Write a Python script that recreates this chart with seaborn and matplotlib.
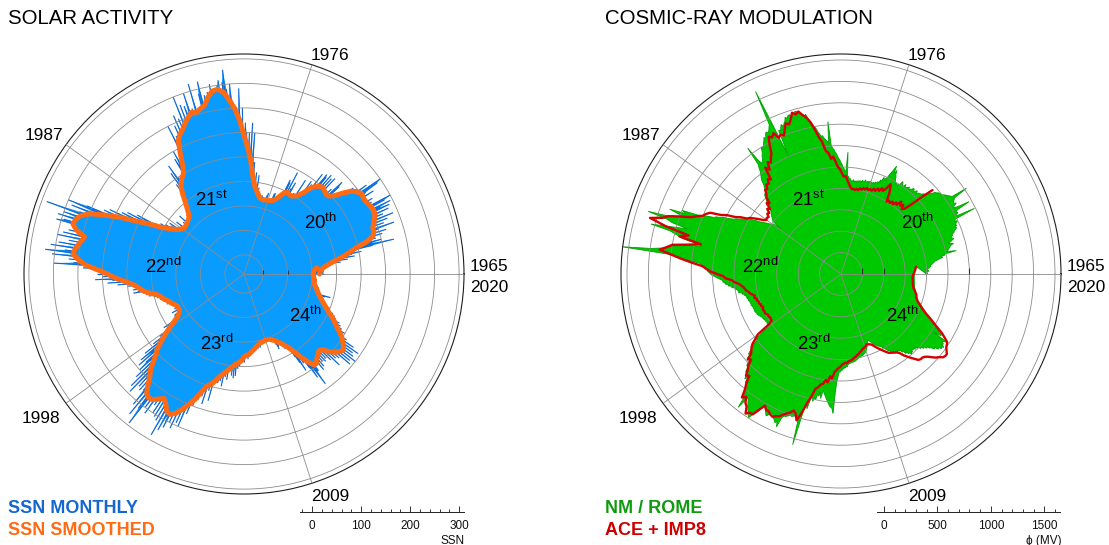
import numpy as np
import pandas as pd
import matplotlib
matplotlib.use("Agg")
import matplotlib.pyplot as plt
import seaborn as sns

sns.set_theme(style="white")
plt.rcParams["font.family"] = ["Liberation Sans", "DejaVu Sans"]
plt.rcParams["mathtext.fontset"] = "custom"
plt.rcParams["mathtext.rm"] = "Liberation Sans"
plt.rcParams["mathtext.it"] = "Liberation Sans:italic"
plt.rcParams["mathtext.bf"] = "Liberation Sans:bold"

# ------------------------------------------------------------------ data
first_year = 1965
circle_years = 55          # one full turn of the dial
spoke_years = [1965, 1976, 1987, 1998, 2009]

# Monthly sunspot number, Jan 1965 .. Dec 2020 (one row per year)
ssn_monthly = [
    24, 22, 19, 21, 24, 23, 20, 17, 19, 27, 24, 24,
    30, 60, 45, 75, 50, 90, 60, 85, 105, 60, 95, 130,
    175, 130, 150, 110, 140, 95, 155, 120, 165, 115, 150, 185,
    120, 165, 130, 175, 140, 190, 135, 170, 150, 185, 140, 190,
    170, 195, 140, 185, 200, 130, 160, 120, 165, 125, 150, 135,
    175, 140, 160, 190, 200, 145, 170, 120, 150, 115, 145, 120,
    120, 70, 100, 75, 110, 80, 125, 135, 80, 110, 75, 100,
    70, 130, 80, 125, 75, 130, 85, 120, 125, 75, 65, 120,
    55, 90, 50, 95, 40, 65, 35, 50, 90, 35, 30, 55,
    35, 50, 30, 75, 60, 35, 95, 40, 70, 75, 35, 20,
    29, 22, 18, 15, 21, 24, 38, 36, 21, 18, 20, 8,
    9, 12, 34, 28, 20, 17, 8, 23, 23, 26, 16, 5,
    15, 25, 20, 40, 25, 65, 30, 45, 70, 40, 55, 90,
    90, 150, 95, 170, 100, 150, 95, 150, 170, 120, 200, 150,
    240, 180, 200, 160, 215, 250, 215, 240, 280, 255, 210, 260,
    250, 200, 225, 190, 255, 205, 240, 175, 235, 210, 265, 240,
    145, 200, 175, 265, 185, 215, 180, 250, 205, 225, 160, 230,
    135, 250, 170, 205, 115, 215, 150, 195, 145, 175, 125, 200,
    140, 60, 110, 100, 150, 120, 135, 80, 90, 55, 70, 95,
    100, 130, 85, 115, 70, 90, 45, 60, 30, 45, 25, 40,
    25, 28, 22, 30, 27, 22, 29, 18, 12, 8, 14, 12,
    3, 38, 17, 15, 24, 8, 10, 8, 5, 35, 20, 5,
    10, 20, 25, 45, 25, 40, 30, 50, 40, 60, 35, 55,
    70, 110, 90, 130, 80, 140, 120, 165, 125, 175, 140, 210,
    250, 190, 240, 180, 220, 290, 190, 250, 220, 260, 200, 245,
    260, 175, 215, 165, 230, 180, 240, 185, 250, 170, 225, 160,
    245, 195, 260, 185, 230, 270, 200, 255, 175, 220, 160, 210,
    250, 170, 190, 130, 150, 95, 160, 110, 150, 100, 165, 130,
    110, 140, 85, 120, 70, 100, 60, 85, 55, 90, 50, 80,
    90, 50, 70, 35, 65, 40, 60, 30, 50, 30, 45, 35,
    35, 40, 30, 20, 35, 25, 22, 25, 15, 30, 15, 13,
    14, 8, 15, 10, 14, 14, 16, 20, 3, 2, 28, 12,
    8, 12, 25, 26, 27, 19, 17, 33, 58, 47, 50, 40,
    40, 75, 60, 95, 70, 120, 85, 135, 110, 145, 90, 130,
    150, 105, 165, 115, 185, 130, 195, 140, 175, 120, 180, 130,
    175, 210, 150, 230, 170, 210, 245, 160, 200, 155, 210, 160,
    185, 130, 200, 150, 205, 140, 210, 160, 240, 170, 225, 190,
    215, 165, 200, 150, 210, 140, 195, 150, 200, 135, 170, 130,
    150, 90, 135, 80, 125, 85, 140, 75, 110, 70, 130, 70,
    80, 55, 90, 50, 85, 55, 95, 50, 75, 45, 80, 40,
    60, 35, 70, 40, 75, 45, 70, 35, 55, 25, 50, 30,
    25, 8, 18, 40, 32, 22, 20, 20, 35, 20, 30, 28,
    25, 18, 8, 5, 18, 20, 14, 8, 4, 2, 3, 16,
    5, 3, 15, 5, 4, 5, 1, 0, 2, 5, 6, 1,
    2, 2, 1, 2, 4, 5, 5, 0, 6, 7, 7, 13,
    20, 30, 25, 11, 13, 19, 25, 28, 36, 35, 35, 22,
    30, 60, 75, 95, 60, 80, 70, 95, 120, 100, 140, 110,
    110, 60, 100, 75, 115, 80, 110, 70, 100, 70, 105, 60,
    100, 60, 110, 85, 130, 70, 115, 80, 120, 90, 145, 100,
    140, 100, 150, 95, 140, 90, 135, 95, 145, 85, 130, 95,
    110, 60, 95, 55, 100, 60, 90, 55, 85, 50, 80, 45,
    70, 45, 65, 35, 60, 25, 45, 40, 50, 30, 35, 20,
    26, 26, 17, 32, 19, 19, 18, 33, 44, 13, 6, 8,
    7, 11, 3, 9, 13, 16, 2, 9, 4, 4, 6, 3,
    8, 1, 10, 10, 10, 1, 1, 0, 1, 0, 1, 2,
    6, 0, 2, 5, 0, 6, 8, 8, 1, 15, 35, 23,
]

# Smoothed sunspot number, quarterly (Jan, Apr, Jul, Oct), 1965 .. 2020
ssn_smoothed = [
    15, 16, 19, 25,   35, 48, 65, 80,   95, 120, 135, 140,
    140, 145, 150, 155,   156, 155, 152, 150,   150, 152, 146, 138,
    122, 105, 96, 94,   97, 100, 98, 92,   82, 65, 55, 50,
    47, 48, 50, 45,   35, 26, 22, 20,   19, 19, 17, 18,
    20, 28, 35, 45,   65, 95, 120, 145,   175, 200, 218, 235,
    242, 240, 230, 215,   210, 205, 208, 200,   192, 182, 175, 165,
    140, 115, 100, 95,   88, 80, 65, 50,   38, 28, 22, 20,
    18, 16, 15, 15,   18, 22, 30, 40,   55, 80, 105, 140,
    170, 200, 215, 222,   225, 215, 195, 200,   205, 210, 212, 200,
    185, 160, 140, 125,   108, 92, 82, 75,   68, 58, 45, 38,
    35, 30, 25, 22,   18, 14, 12, 12,   12, 16, 22, 35,
    50, 65, 80, 95,   105, 120, 135, 145,   160, 175, 180, 178,
    170, 163, 170, 182,   185, 178, 165, 150,   135, 115, 100, 95,
    85, 75, 68, 62,   55, 50, 45, 42,   38, 30, 27, 26,
    22, 18, 15, 11,   8, 6, 5, 4,   3, 3, 4, 7,
    10, 16, 20, 28,   36, 50, 66, 83,   95, 95, 88, 85,
    80, 82, 95, 105,   112, 116, 112, 105,   98, 88, 78, 70,
    62, 52, 45, 38,   32, 27, 22, 18,   15, 12, 9, 6,
    6, 5, 4, 3,   2, 3, 5, 10,
]

# Modulation potential from the Rome neutron monitor, monthly, MV
phi_nm_rome = [
    400, 410, 395, 415, 420, 405, 410, 425, 430, 445, 430, 455,
    460, 475, 480, 505, 530, 565, 540, 590, 580, 700, 610, 625,
    630, 645, 650, 665, 690, 640, 665, 685, 705, 690, 680, 705,
    700, 725, 730, 745, 765, 750, 775, 760, 785, 795, 770, 785,
    990, 800, 815, 835, 820, 845, 975, 855, 820, 835, 865, 840,
    850, 865, 875, 1020, 860, 855, 845, 830, 825, 810, 800, 795,
    790, 785, 770, 765, 740, 725, 700, 695, 680, 675, 660, 655,
    650, 645, 630, 655, 640, 620, 645, 650, 630, 625, 610, 635,
    620, 615, 600, 634, 610, 600, 625, 640, 600, 595, 580, 595,
    580, 605, 620, 645, 660, 700, 655, 735, 680, 645, 600, 585,
    570, 590, 540, 555, 520, 530, 510, 520, 500, 510, 495, 505,
    500, 510, 490, 505, 495, 490, 510, 490, 485, 500, 480, 490,
    480, 490, 470, 485, 470, 480, 470, 490, 475, 470, 485, 495,
    500, 515, 520, 741, 560, 565, 585, 600, 625, 640, 665, 680,
    700, 725, 740, 765, 780, 805, 1030, 825, 850, 865, 880, 905,
    900, 925, 950, 985, 1000, 1035, 1060, 1085, 1130, 1100, 1125, 1130,
    1150, 1175, 1180, 1160, 1175, 1150, 1165, 1160, 1140, 1155, 1120, 1105,
    1080, 1105, 1080, 1050, 1065, 800, 1100, 1483, 1150, 1125, 1100, 1085,
    1100, 1085, 1050, 1065, 1040, 1025, 1000, 985, 1000, 965, 940, 925,
    900, 885, 870, 905, 1065, 880, 855, 820, 805, 780, 765, 740,
    700, 685, 650, 645, 620, 635, 620, 605, 580, 565, 540, 525,
    500, 485, 470, 465, 450, 445, 430, 425, 410, 405, 300, 385,
    390, 405, 420, 445, 460, 485, 500, 535, 560, 585, 600, 625,
    640, 665, 680, 705, 720, 745, 780, 825, 850, 885, 900, 955,
    1000, 1050, 1200, 1150, 1311, 1200, 1150, 1250, 1300, 1495, 1300, 1250,
    1093, 1200, 1300, 1437, 1250, 1200, 1150, 1100, 1000, 914, 1000, 1100,
    1150, 1200, 1250, 1300, 1400, 1663, 1213, 1150, 1100, 1000, 928, 900,
    880, 870, 865, 850, 845, 831, 820, 805, 780, 765, 740, 725,
    700, 710, 680, 690, 650, 660, 618, 630, 590, 600, 570, 580,
    560, 575, 530, 545, 510, 525, 500, 515, 495, 510, 490, 500,
    495, 490, 490, 488, 485, 490, 485, 480, 478, 480, 475, 478,
    480, 478, 475, 470, 468, 470, 465, 460, 455, 450, 445, 440,
    440, 438, 435, 430, 432, 430, 428, 425, 430, 435, 432, 440,
    450, 510, 560, 600, 590, 650, 684, 660, 720, 745, 720, 780,
    790, 760, 800, 830, 800, 850, 880, 860, 900, 930, 900, 950,
    950, 980, 1000, 1020, 1040, 1060, 1173, 1060, 1053, 1080, 1100, 1120,
    1140, 1160, 1180, 1197, 1150, 1120, 1100, 1050, 1024, 1040, 1060, 1080,
    1100, 1080, 1060, 1050, 1070, 1090, 1100, 1120, 1100, 1151, 1050, 1030,
    1030, 1020, 1010, 1000, 1010, 1000, 990, 980, 1005, 1030, 1258, 900,
    860, 900, 790, 778, 820, 780, 800, 740, 760, 720, 780, 700,
    720, 740, 760, 780, 800, 820, 840, 850, 860, 907, 700, 600,
    560, 510, 520, 490, 505, 480, 490, 470, 480, 460, 470, 450,
    445, 440, 438, 435, 432, 431, 430, 428, 425, 420, 415, 410,
    405, 400, 398, 395, 392, 390, 388, 385, 380, 375, 370, 365,
    355, 345, 335, 325, 310, 295, 280, 264, 270, 280, 290, 300,
    310, 330, 320, 345, 340, 360, 355, 375, 370, 395, 390, 415,
    420, 445, 440, 465, 455, 480, 470, 490, 480, 500, 485, 505,
    495, 530, 520, 560, 550, 580, 570, 600, 580, 590, 565, 580,
    570, 590, 565, 600, 585, 620, 600, 640, 625, 660, 650, 680,
    690, 720, 710, 750, 740, 770, 760, 780, 750, 760, 730, 750,
    780, 619, 700, 690, 650, 660, 610, 600, 570, 560, 520, 513,
    500, 490, 480, 470, 455, 445, 440, 425, 415, 400, 395, 380,
    370, 360, 350, 345, 340, 330, 325, 322, 320, 318, 316, 315,
    312, 310, 308, 305, 303, 300, 298, 296, 295, 293, 292, 290,
    290, 289, 288, 288, 287, 286, 286, 285, 285, 285, 286, 286,
    287, 288, 288, 290, 290, 292, 293, 295, 296, 298, 300, 302,
]

# Modulation potential from ACE + IMP8 spacecraft, every two months from Jul 1971, MV
phi_ace_start = 1971.5
phi_ace_imp8 = [
    760, 640, 520,
    450, 430, 470, 445, 480, 430,   445, 410, 430, 405, 420, 400,
    470, 520, 560, 500, 470, 490,   455, 470, 440, 455, 430, 440,
    425, 440, 420, 430, 410, 420,   400, 410, 395, 405, 400, 420,
    450, 480, 520, 510, 540, 580,   600, 650, 700, 680, 740, 760,
    850, 900, 980, 1050, 1100, 1130,   1170, 1150, 1175, 1120, 1080, 1100,
    1050, 1000, 1020, 1000, 1060, 1030,   1050, 980, 900, 870, 830, 850,
    780, 820, 700, 720, 680, 690,   650, 660, 620, 600, 540, 560,
    500, 520, 480, 490, 460, 470,   460, 480, 520, 560, 600, 620,
    680, 720, 800, 850, 950, 980,   1000, 1050, 1100, 1200, 1300, 1350,
    1460, 1300, 1070, 1150, 940, 1050,   1200, 1250, 1310, 1200, 1100, 1000,
    900, 860, 820, 760, 700, 680,   620, 600, 560, 540, 520, 510,
    500, 480, 470, 450, 430, 440,   420, 425, 410, 415, 400, 405,
    390, 400, 400, 395, 400, 390,   380, 385, 375, 380, 380, 420,
    560, 600, 650, 680, 700, 720,   780, 760, 820, 850, 900, 880,
    950, 1000, 1080, 1050, 1100, 1120,   1180, 1150, 1150, 1080, 1020, 1050,
    1050, 1070, 1080, 1060, 1050, 1020,   1000, 980, 950, 970, 1030, 950,
    850, 780, 700, 680, 650, 640,   600, 620, 560, 580, 520, 500,
    480, 470, 450, 440, 430, 435,   420, 415, 410, 400, 390, 385,
    370, 365, 350, 345, 330, 325,   320, 310, 300, 305, 310, 320,
    340, 360, 380, 400, 420, 440,   460, 470, 480, 490, 500, 520,
    560, 590, 620, 650, 680, 690,   690, 700, 720, 750, 780, 800,
    830, 840, 840, 820, 800, 790,   780, 740, 700, 650, 600, 560,
    520, 480, 450, 420, 400, 380,   360, 350, 340, 335, 330, 320,
    310, 300, 290, 285, 280, 278,   275, 273, 272, 270, 270, 272,
    280, 285, 290, 295, 300, 305,
]

cycle_labels = [("20", "th"), ("21", "st"), ("22", "nd"), ("23", "rd"), ("24", "th")]

# ------------------------------------------------------------------ helpers
W, H = 1109, 545
BLUE_FILL, BLUE_DARK, BLUE_TEXT = "#0a9bff", "#1468d2", "#1467d0"
ORANGE = "#ff6a12"
GREEN_FILL, GREEN_EDGE, GREEN_TEXT = "#00c800", "#00a000", "#0f9a0f"
RED = "#d60000"
GRID = "#8c8c8c"


def to_theta(t):
    return (np.asarray(t, dtype=float) - first_year) / circle_years * 2 * np.pi


def fig_xy(x, y):
    return x / W, 1 - y / H


fig = plt.figure(figsize=(W / 100, H / 100), dpi=100)
fig.patch.set_facecolor("white")


def make_dial(cx, cy, radius, rlim, rings, center_ticks, tick_len):
    ax = fig.add_axes([(cx - radius) / W, (H - cy - radius) / H,
                       2 * radius / W, 2 * radius / H], projection="polar")
    ax.set_facecolor("none")
    ax.set_theta_zero_location("E")
    ax.set_theta_direction(1)
    ax.set_xticks(to_theta(spoke_years))
    ax.set_yticks(rings)
    ax.set_xticklabels([])
    ax.set_yticklabels([])
    ax.tick_params(length=0)
    ax.grid(True, color=GRID, linewidth=0.6)
    ax.set_axisbelow(False)
    ax.spines["polar"].set_color("#1e1e1e")
    ax.spines["polar"].set_linewidth(0.8)
    ax.plot(np.zeros(len(center_ticks)), center_ticks, ls="none",
            marker=[(0, 0), (0, 1)], ms=tick_len, mew=0.8, color="#333333",
            zorder=5, clip_on=False)
    ax.set_ylim(*rlim)
    return ax


def finish_dial(ax, rlim):
    ax.set_xlim(0, 2 * np.pi)
    ax.set_ylim(*rlim)
    ax.set_xlabel("")
    ax.set_ylabel("")
    rmax = rlim[1]
    year_fs = 12.4
    spec = [("1965", 0, "left", 6, 3), ("2020", 0, "left", 6, -18),
            ("1976", 1, "left", -1, 5), ("1987", 2, "right", -3, 5),
            ("1998", 3, "right", -6, -20), ("2009", 4, "left", -1, -18)]
    for txt, k, ha, dx, dy in spec:
        ax.annotate(txt, xy=(to_theta(spoke_years[k]), rmax), xytext=(dx, dy),
                    textcoords="offset pixels", ha=ha, va="baseline",
                    fontsize=year_fs, color="black", annotation_clip=False)
    offsets = [(60, 45), (-49, 68), (-99, 1), (-44, -76), (45, -48)]
    for (num, suf), (dx, dy) in zip(cycle_labels, offsets):
        ax.annotate(num + r"$^{\mathrm{" + suf + "}}$", xy=(0, rlim[0]),
                    xytext=(dx, dy), textcoords="offset pixels", ha="left",
                    va="baseline", fontsize=13.4, color="black", zorder=6,
                    annotation_clip=False)


def scale_bar(cx, y, radius, rlim, bounds, majors, minors, unit):
    bx = fig.add_axes([cx / W, (H - y) / H, radius / W, 0.5 / H])
    bx.set_facecolor("none")
    bx.set_xlim(*rlim)
    bx.set_yticks([])
    for s in ("top", "left", "right"):
        bx.spines[s].set_visible(False)
    bx.spines["bottom"].set_bounds(*bounds)
    bx.spines["bottom"].set_color("#222222")
    bx.spines["bottom"].set_linewidth(0.7)
    bx.set_xticks(majors)
    bx.set_xticklabels([str(v) for v in majors])
    bx.set_xticks(minors, minor=True)
    bx.tick_params(axis="x", which="major", direction="in", length=4.3,
                   width=0.6, pad=5.5, labelsize=8.5, colors="#111111")
    bx.tick_params(axis="x", which="minor", direction="in", length=1.9,
                   width=0.6, colors="#111111")
    bx.tick_params(axis="x", which="both", bottom=True)
    fig.text(*fig_xy(cx + radius + 1, 544), unit, ha="right", va="baseline",
             fontsize=8.5, color="#111111", family=["Liberation Sans", "DejaVu Sans"])


# ------------------------------------------------------------------ solar activity dial
ssn_rlim = (-139, 310)
axL = make_dial(244, 274, 220, ssn_rlim, list(range(-100, 301, 50)), [-100, -50], 5.8)

month_t = first_year + np.arange(len(ssn_monthly)) / 12
ssn_df = pd.DataFrame({"theta": to_theta(month_t), "ssn": ssn_monthly})
quarter_t = first_year + np.arange(len(ssn_smoothed)) / 4
smooth_df = pd.DataFrame({"theta": to_theta(quarter_t), "ssn": ssn_smoothed})

axL.fill(ssn_df["theta"], ssn_df["ssn"], color=BLUE_FILL, lw=0, zorder=1)
axL.vlines(ssn_df["theta"], ssn_rlim[0], ssn_df["ssn"], color=BLUE_DARK,
           lw=0.85, zorder=1.1)
axL.fill(smooth_df["theta"], smooth_df["ssn"], color=BLUE_FILL, lw=0, zorder=1.2)
sns.lineplot(data=smooth_df, x="theta", y="ssn", ax=axL, color=ORANGE,
             linewidth=3.6, sort=False, estimator=None, zorder=4)
finish_dial(axL, ssn_rlim)

# ------------------------------------------------------------------ cosmic-ray dial
phi_rlim = (-400, 1656)
axR = make_dial(841, 274, 220, phi_rlim, list(range(-200, 1601, 200)), [-200, 0, 800], 8.4)

nm_df = pd.DataFrame({"theta": to_theta(month_t[:len(phi_nm_rome)]), "phi": phi_nm_rome})
ace_t = phi_ace_start + np.arange(len(phi_ace_imp8)) / 6
ace_df = pd.DataFrame({"theta": to_theta(ace_t), "phi": phi_ace_imp8})

axR.fill(nm_df["theta"], nm_df["phi"], facecolor=GREEN_FILL, edgecolor=GREEN_EDGE,
         lw=0.6, zorder=1)
sns.lineplot(data=ace_df, x="theta", y="phi", ax=axR, color=RED,
             linewidth=1.7, sort=False, estimator=None, zorder=4)
finish_dial(axR, phi_rlim)

# ------------------------------------------------------------------ scale bars
scale_bar(244, 512, 220, ssn_rlim, (-25, 310), [0, 100, 200, 300],
          list(range(-20, 301, 20)), "SSN")
scale_bar(841, 512, 220, phi_rlim, (-60, 1650), [0, 500, 1000, 1500],
          list(range(0, 1601, 100)), "\u03d5 (MV)")

# ------------------------------------------------------------------ titles and legends
fig.text(*fig_xy(8, 23.6), "SOLAR ACTIVITY", fontsize=14.7, va="baseline", color="black")
fig.text(*fig_xy(605, 23.6), "COSMIC-RAY MODULATION", fontsize=14.7, va="baseline",
         color="black")
fig.text(*fig_xy(8, 513), "SSN MONTHLY", fontsize=13, fontweight="bold",
         va="baseline", color=BLUE_TEXT)
fig.text(*fig_xy(8, 535), "SSN SMOOTHED", fontsize=13, fontweight="bold",
         va="baseline", color=ORANGE)
fig.text(*fig_xy(605, 513), "NM / ROME", fontsize=13, fontweight="bold",
         va="baseline", color=GREEN_TEXT)
fig.text(*fig_xy(605, 535), "ACE + IMP8", fontsize=13, fontweight="bold",
         va="baseline", color="#cc0000")

fig.savefig("out.png", dpi=100, facecolor="white")
